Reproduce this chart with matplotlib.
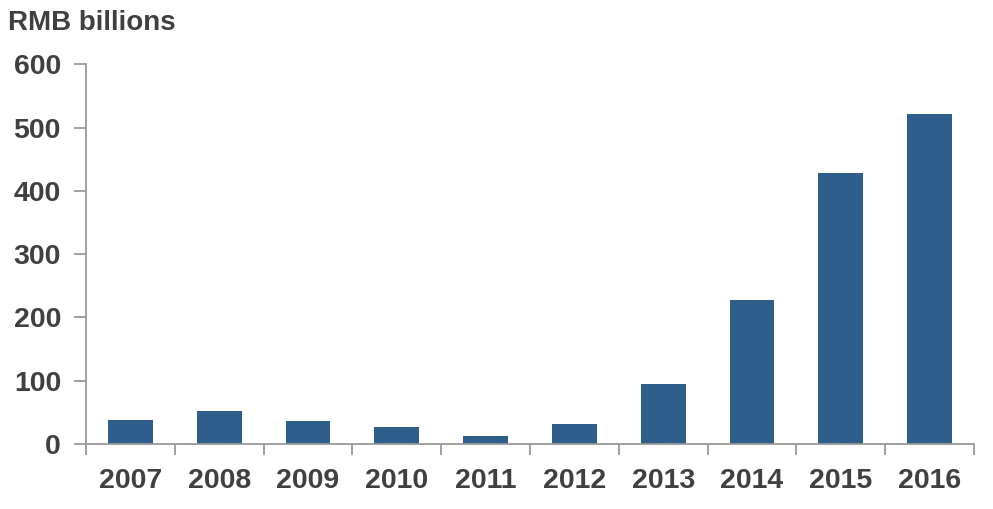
import matplotlib.pyplot as plt
import numpy as np

years = ['2007', '2008', '2009', '2010', '2011', '2012', '2013', '2014', '2015', '2016']
values = [38, 52, 36, 27, 13, 32, 95, 228, 428, 521]
yticks = [0, 100, 200, 300, 400, 500, 600]

bar_color = '#2E5F8C'
text_color = '#404040'
axis_color = '#999999'

plt.rcParams['font.family'] = ['Liberation Sans', 'DejaVu Sans']

fig = plt.figure(figsize=(9.93, 5.09), dpi=100)
ax = fig.add_axes([86 / 993, 65 / 509, (974 - 86) / 993, (444 - 64.3) / 509])

x = np.arange(len(years))
ax.bar(x, values, width=0.505, color=bar_color, zorder=2)

ax.set_xlim(-0.5, len(years) - 0.5)
ax.set_ylim(0, 600)

# labels under bars, tick marks at category edges
ax.set_xticks(x)
ax.set_xticklabels(years, fontsize=20.5, fontweight='bold', color=text_color)
ax.tick_params(axis='x', which='major', length=0, pad=17)
ax.set_xticks(np.arange(-0.5, len(years)), minor=True)
ax.tick_params(axis='x', which='minor', length=8, width=1.3, color=axis_color, direction='out')

ax.set_yticks(yticks)
ax.set_yticklabels([str(v) for v in yticks], fontsize=20.5, fontweight='bold', color=text_color)
ax.tick_params(axis='y', length=9, width=1.3, color=axis_color, direction='out', pad=9)

for side in ['top', 'right']:
    ax.spines[side].set_visible(False)
for side in ['left', 'bottom']:
    ax.spines[side].set_color(axis_color)
    ax.spines[side].set_linewidth(1.3)

fig.text(8 / 993, 1 - 23 / 509, 'RMB billions', fontsize=20, fontweight='bold',
         color=text_color, ha='left', va='center')

fig.savefig('out.png', dpi=100)
